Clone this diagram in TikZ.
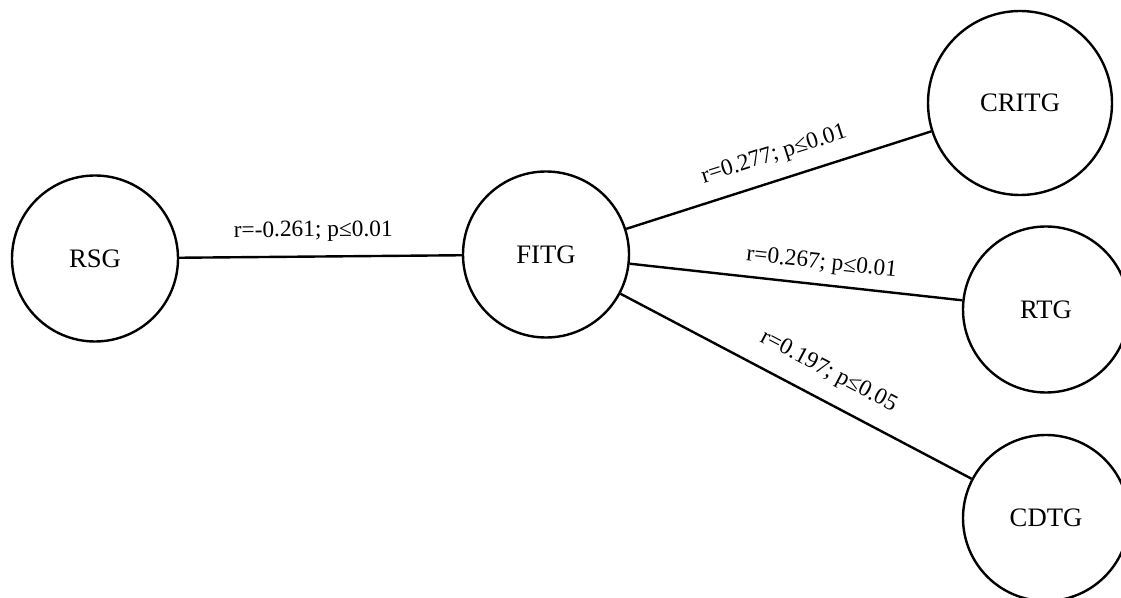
\documentclass[tikz,border=0pt]{standalone}
\usepackage{fontspec}
\setmainfont{Liberation Serif}
\begin{document}
\begin{tikzpicture}[
  x=0.75pt, y=-0.75pt, line width=1.8pt,
  grp/.style={circle,draw,minimum size=124.5pt,inner sep=0pt,
    font=\fontsize{20}{24}\selectfont},
  lbl/.style={sloped,font=\fontsize{17.5}{21}\selectfont}
]
\useasboundingbox (0,0) rectangle (1121,598);
\node[grp] (rsg) at (95,258.5) {RSG};
\node[grp] (fitg) at (546,254.5) {FITG};
\node[grp,minimum size=138pt] (critg) at (1020,103) {CRITG};
\node[grp] (rtg) at (1046,309.5) {RTG};
\node[grp] (cdtg) at (1046,518) {CDTG};
\draw (rsg) -- node[lbl,pos=0.475,above=7pt] {r=-0.261; p≤0.01} (fitg);
\draw (fitg) -- node[lbl,pos=0.51,above=7pt] {r=0.277; p≤0.01} (critg);
\draw (fitg) -- node[lbl,pos=0.57,above=4pt] {r=0.267; p≤0.01} (rtg);
\draw (fitg) -- node[lbl,pos=0.555,above=9pt] {r=0.197; p≤0.05} (cdtg);
\end{tikzpicture}
\end{document}
